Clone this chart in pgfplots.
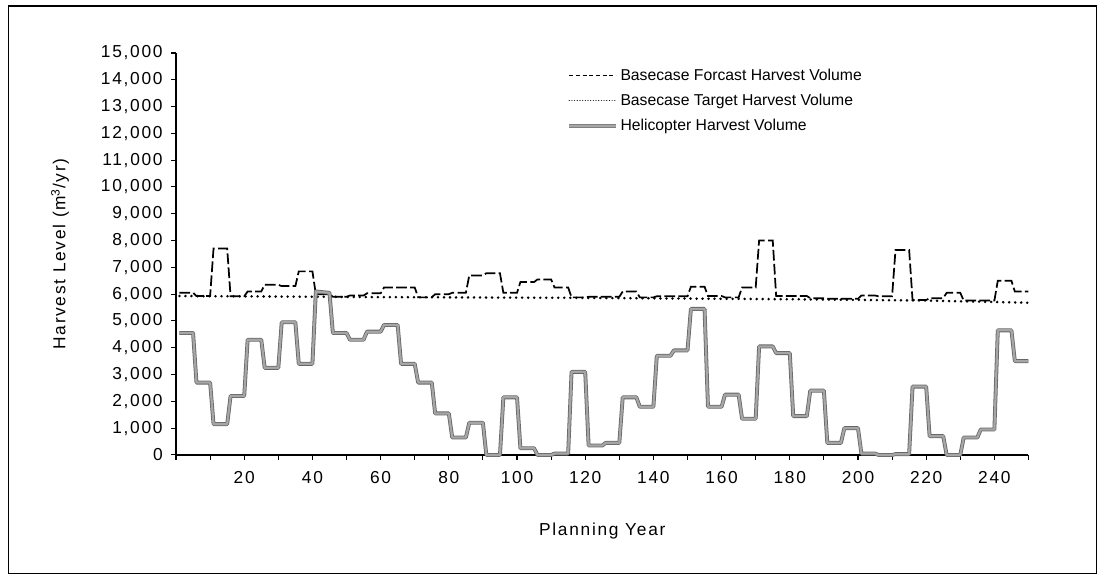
\documentclass[border=0pt]{standalone}
\usepackage{fontspec}
\setmainfont{Liberation Sans}
\newfontfamily\tickfont[LetterSpace=10]{Liberation Sans}
\usepackage{pgfplots}
\pgfplotsset{compat=1.18}

\begin{document}
\begin{tikzpicture}
\begin{axis}[
  scale only axis,
  width=639.4pt, height=301.5pt,
  xmin=0, xmax=250, ymin=0, ymax=15000,
  axis lines*=left,
  axis line style={line width=1pt},
  tick align=outside,
  major tick length=3.5pt, minor tick length=3.5pt,
  tick style={black, line width=0.8pt},
  xtick={20,40,...,240},
  minor xtick={0,10,...,250},
  ytick={0,1000,...,15000},
  scaled y ticks=false,
  yticklabel style={xshift=-3pt, /pgf/number format/.cd, 1000 sep={,}},
  /pgf/number format/assume math mode=true,
  ticklabel style={font=\tickfont\fontsize{13}{15}\selectfont},
  xticklabel style={yshift=-5pt},
  xlabel={Planning Year},
  ylabel={Harvest Level (m\textsuperscript{3}/yr)},
  label style={font=\tickfont\fontsize{13}{15}\selectfont},
  xlabel style={at={(axis description cs:0.5,-0.19)}, anchor=center},
  ylabel style={at={(axis description cs:-0.136,0.5)}, anchor=center},
  clip=false,
  legend cell align=left,
  legend style={at={(axis description cs:0.454,0.975)}, anchor=north west,
    draw=none, fill=none, row sep=5pt, font=\fontsize{11.8}{14}\selectfont},
]
\addplot[black, line width=1.3pt, dash pattern=on 8pt off 2.5pt,
  legend image code/.code={\draw[black, line width=0.6pt, dash pattern=on 3pt off 2pt] (0pt,0pt) -- (35pt,0pt);}]
  coordinates {
  (1,6050)(5,6050)(6,5930)(10,5930)(11,7700)(15,7700)(16,5920)(20,5920)(21,6100)(25,6100)
  (26,6350)(30,6350)(31,6300)(35,6300)(36,6850)(40,6850)(41,6000)(45,6000)(46,5900)(50,5900)
  (51,5950)(55,5950)(56,6030)(60,6030)(61,6250)(65,6250)(66,6250)(70,6250)(71,5880)(75,5880)
  (76,6000)(80,6000)(81,6050)(85,6050)(86,6700)(90,6700)(91,6780)(95,6780)(96,6050)(100,6050)
  (101,6450)(105,6450)(106,6550)(110,6550)(111,6250)(115,6250)(116,5880)(120,5880)(121,5900)(125,5900)
  (126,5900)(130,5900)(131,6100)(135,6100)(136,5880)(140,5880)(141,5920)(145,5920)(146,5920)(150,5920)
  (151,6280)(155,6280)(156,5930)(160,5930)(161,5880)(165,5880)(166,6250)(170,6250)(171,8000)(175,8000)
  (176,5930)(180,5930)(181,5930)(185,5930)(186,5850)(190,5850)(191,5830)(195,5830)(196,5830)(200,5830)
  (201,5950)(205,5950)(206,5920)(210,5920)(211,7650)(215,7650)(216,5780)(220,5780)(221,5850)(225,5850)
  (226,6050)(230,6050)(231,5760)(235,5760)(236,5760)(240,5760)(241,6500)(245,6500)(246,6100)(250,6100)
  };
\addlegendentry{Basecase Forcast Harvest Volume}
\addplot[black, line width=2.1pt, line cap=round, dash pattern=on 0.01pt off 4.5pt,
  legend image code/.code={\draw[black, line width=0.9pt, line cap=round, dash pattern=on 0.01pt off 2pt] (0pt,0pt) -- (35pt,0pt);}]
  coordinates {(1,5930)(60,5890)(120,5860)(180,5810)(220,5760)(250,5680)};
\addlegendentry{Basecase Target Harvest Volume}
\addplot[draw=black!60, line width=0.6pt, double=black!35, double distance=1.7pt, line join=round,
  legend image code/.code={\draw[gray, line width=0.6pt] (0pt,0pt) -- (35pt,0pt);}]
  coordinates {
  (1,4550)(5,4550)(6,2700)(10,2700)(11,1150)(15,1150)(16,2200)(20,2200)(21,4300)(25,4300)
  (26,3250)(30,3250)(31,4950)(35,4950)(36,3400)(40,3400)(41,6100)(45,6050)(46,4550)(50,4550)
  (51,4300)(55,4300)(56,4600)(60,4600)(61,4850)(65,4850)(66,3400)(70,3400)(71,2700)(75,2700)
  (76,1550)(80,1550)(81,650)(85,650)(86,1200)(90,1200)(91,0)(95,0)(96,2150)(100,2150)
  (101,250)(105,250)(106,0)(110,0)(111,50)(115,50)(116,3100)(120,3100)(121,350)(125,350)
  (126,450)(130,450)(131,2150)(135,2150)(136,1800)(140,1800)(141,3700)(145,3700)(146,3900)(150,3900)
  (151,5450)(155,5450)(156,1800)(160,1800)(161,2250)(165,2250)(166,1350)(170,1350)(171,4050)(175,4050)
  (176,3800)(180,3800)(181,1450)(185,1450)(186,2400)(190,2400)(191,450)(195,450)(196,1000)(200,1000)
  (201,50)(205,50)(206,0)(210,0)(211,30)(215,30)(216,2550)(220,2550)(221,700)(225,700)
  (226,0)(230,0)(231,650)(235,650)(236,950)(240,950)(241,4650)(245,4650)(246,3500)(250,3500)
  };
\addlegendentry{Helicopter Harvest Volume}
% outer frame and page extent
\draw[line width=0.8pt] (rel axis cs:-0.197,-0.296) rectangle (rel axis cs:1.0803,1.1169);
\path (rel axis cs:-0.2065,-0.3184) rectangle (rel axis cs:1.0886,1.1318);
\end{axis}
\end{tikzpicture}
\end{document}
